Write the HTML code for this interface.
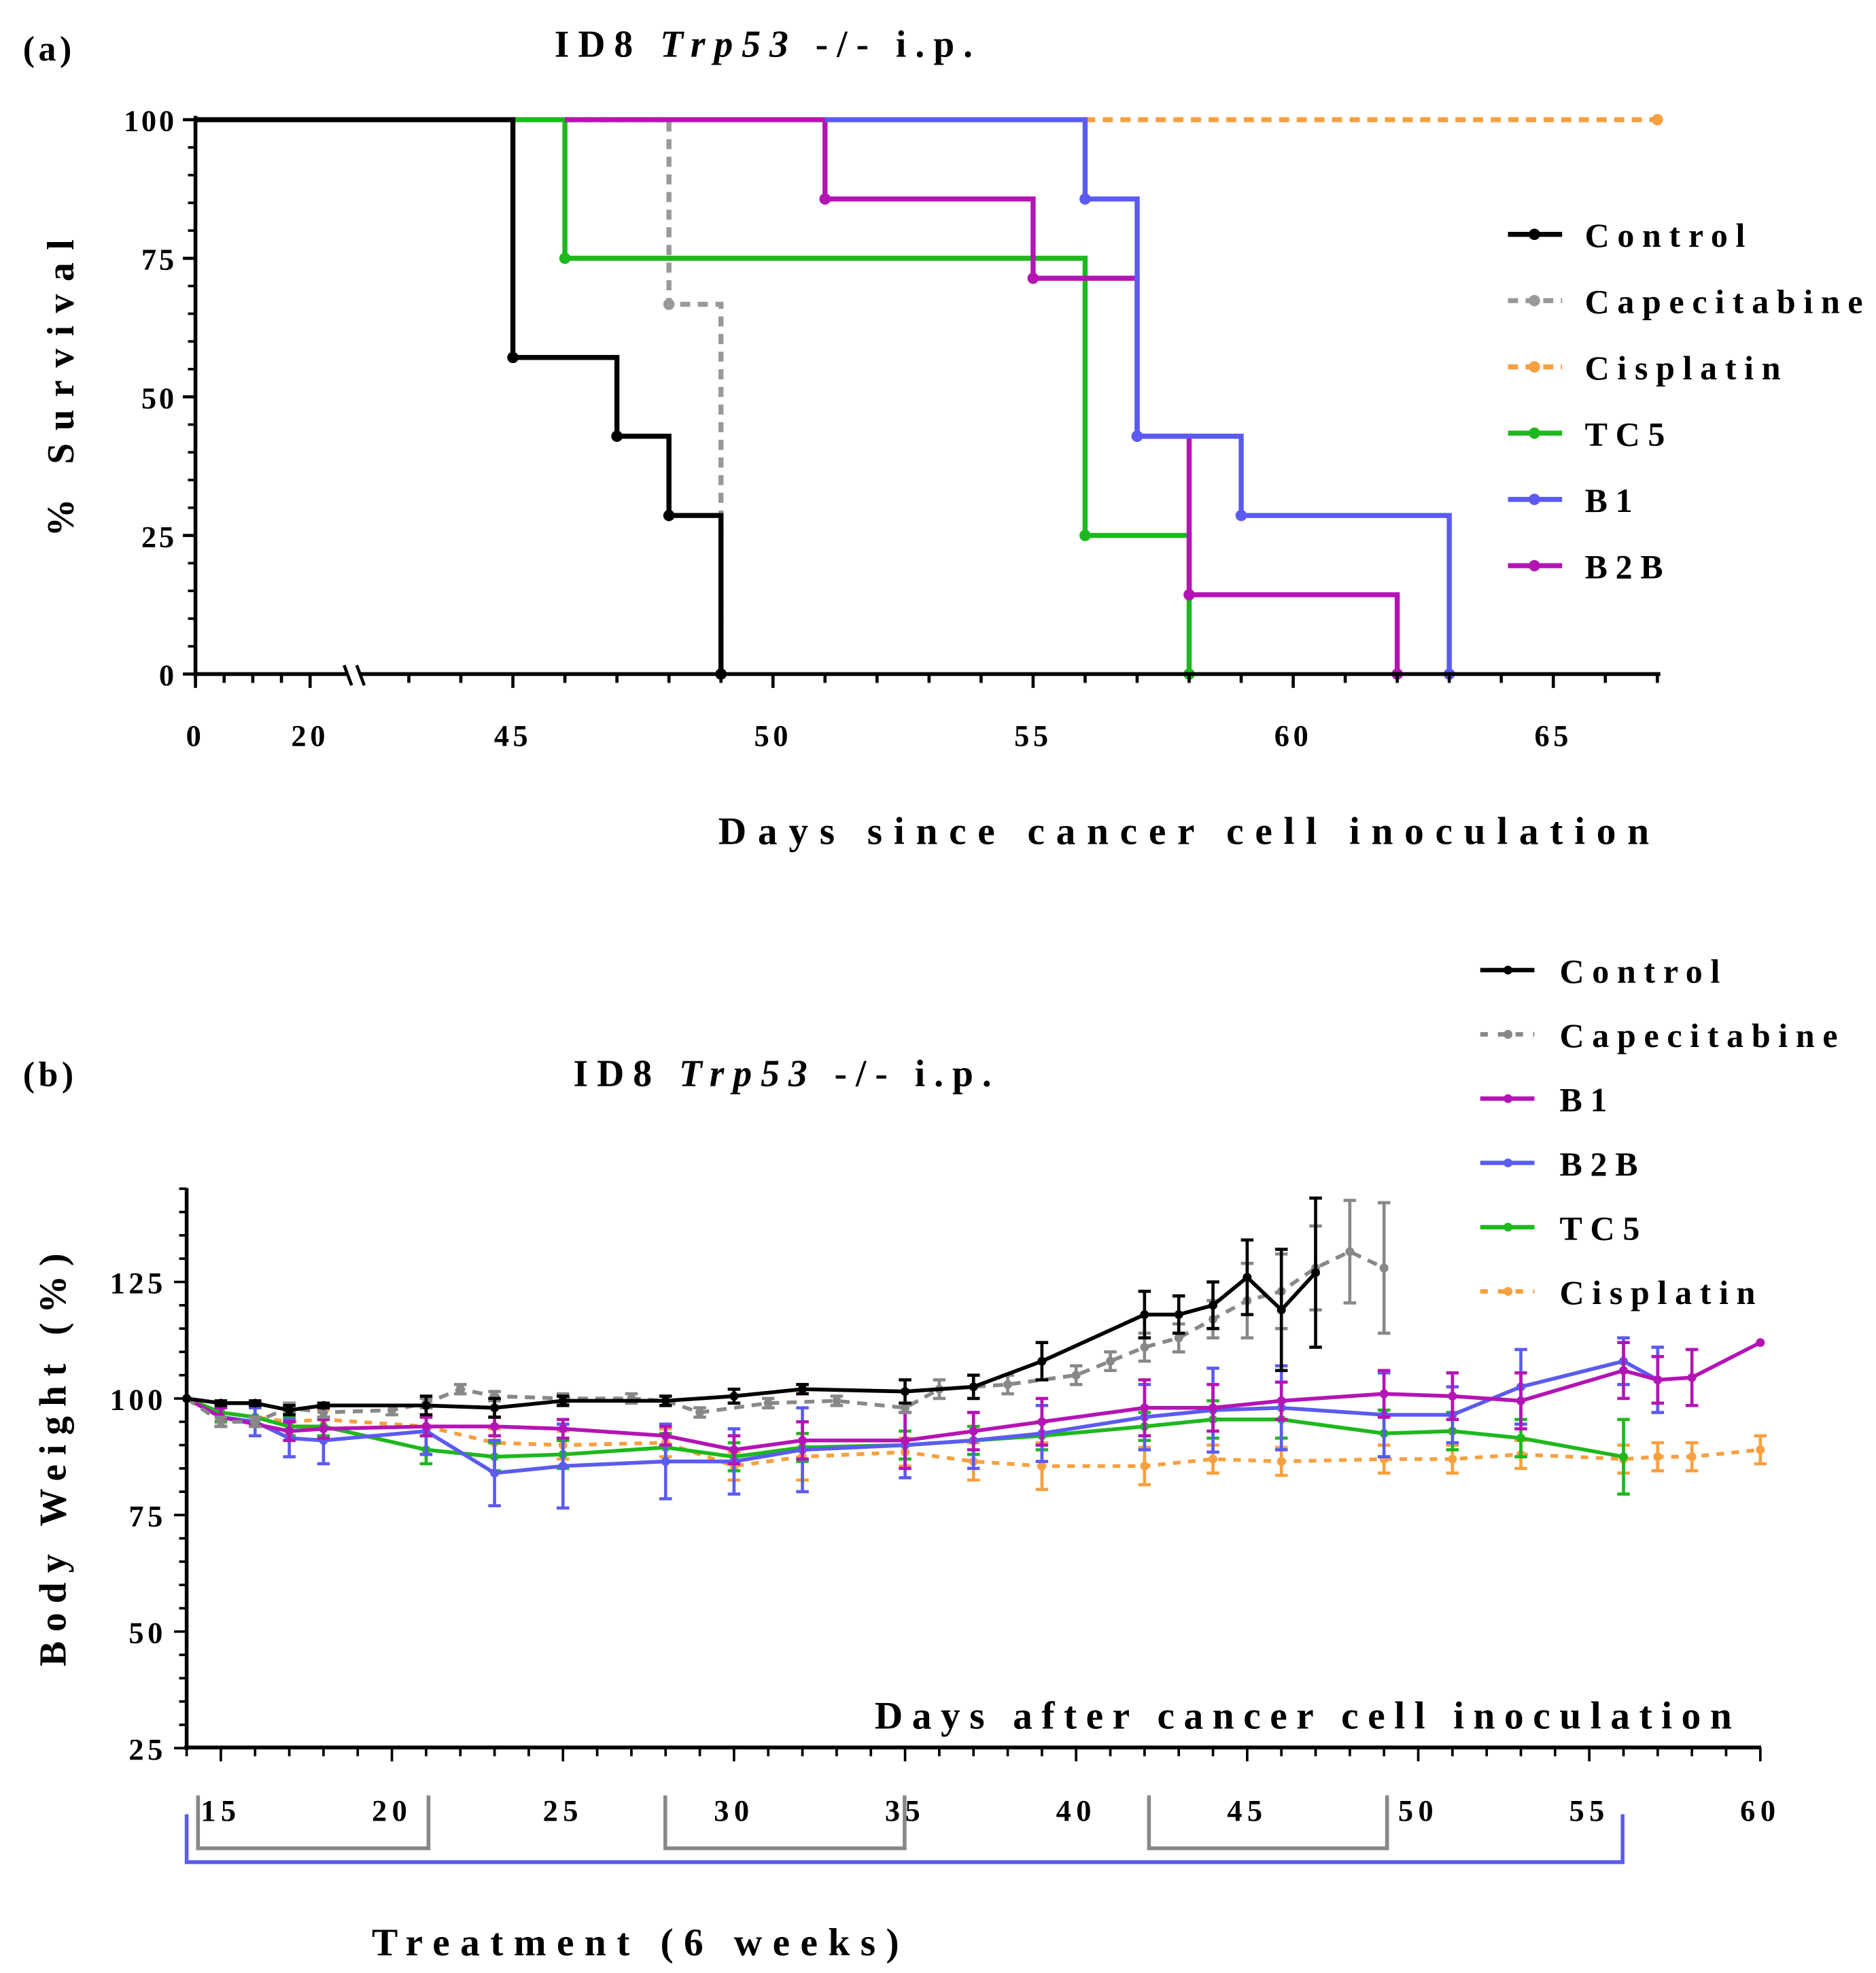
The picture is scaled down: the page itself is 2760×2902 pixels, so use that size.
<!DOCTYPE html>
<html><head><meta charset="utf-8"><style>
html,body{margin:0;padding:0;background:#fff}
svg{display:block}
text{font-family:"Liberation Serif",serif;font-weight:bold;fill:#000}
</style></head><body>
<svg id="fig" width="2760" height="2902" viewBox="0 0 1489 1566" xmlns="http://www.w3.org/2000/svg">
<g id="a"></g>
<g id="b"></g>
</svg>
<script>
const NS='http://www.w3.org/2000/svg';
function mk(p,t,a,txt){const e=document.createElementNS(NS,t);for(const k in a)e.setAttribute(k,a[k]);if(txt!==undefined)e.textContent=txt;p.appendChild(e);return e;}

// ===== Panel (a) data =====
const survNames=['Control','Capecitabine','Cisplatin','TC5','B1','B2B'];
const survColors=['#000','#999','#f7a040','#1db81d','#5b5bf0','#b414b4'];
const survDash=[null,'8,6','8,6',null,null,null];
const survDays=[[45,47,48,49],[48,49],[],[46,56,58],[56,57,59,63],[51,55,57,58,62]];
const survVals=[[57.1,42.9,28.6,0],[66.7,0],[],[75,25,0],[85.7,42.9,28.6,0],[85.7,71.4,42.9,14.3,0]];
const survStart=[0,46,56,45,51,46];
const survEnd=[49,49,67,58,63,62];
const survXTicks=[0,20,45,50,55,60,65];
const survYTicks=[0,25,50,75,100];

const A=document.getElementById('a');
function sx(d){ if(d<=22) return 155+d*4.55; return 407+(d-45)*41.3; }
function sy(v){ return 535-v*4.4; }
const order=[2,1,3,5,4,0];
order.forEach(i=>{
  const g=mk(A,'g',{});
  
  
  let pts=[],cur=100,x0=survStart[i];
  pts.push([sx(x0),sy(100)]);
  survDays[i].forEach((d,k)=>{pts.push([sx(d),sy(cur)]);cur=survVals[i][k];pts.push([sx(d),sy(cur)]);});
  if(survDays[i].length===0) pts.push([sx(survEnd[i]),sy(100)]);
  const a={points:pts.map(p=>p.join(',')).join(' '),fill:'none',stroke:survColors[i],'stroke-width':4};
  if(survDash[i]) a['stroke-dasharray']=survDash[i];
  mk(g,'polyline',a);
  survDays[i].forEach((d,k)=>mk(g,'circle',{cx:sx(d),cy:sy(survVals[i][k]),r:4.5,fill:survColors[i]}));
  if(survDays[i].length===0) mk(g,'circle',{cx:sx(survEnd[i]),cy:sy(100),r:4.5,fill:survColors[i]});
});
const ax=mk(A,'g',{});

mk(ax,'line',{x1:155,y1:92,x2:155,y2:537,stroke:'#000','stroke-width':3});
mk(ax,'line',{x1:155,y1:535,x2:276,y2:535,stroke:'#000','stroke-width':3});
mk(ax,'line',{x1:286,y1:535,x2:1318,y2:535,stroke:'#000','stroke-width':3});
mk(ax,'line',{x1:273,y1:528,x2:279,y2:544,stroke:'#000','stroke-width':2.5});
mk(ax,'line',{x1:283,y1:528,x2:289,y2:544,stroke:'#000','stroke-width':2.5});
for(let d=0;d<=20;d+=5) mk(ax,'line',{x1:sx(d),y1:535,x2:sx(d),y2:d%20===0?546:542,stroke:'#000','stroke-width':2.5});
for(let d=43;d<=67;d++) mk(ax,'line',{x1:sx(d),y1:535,x2:sx(d),y2:d%5===0?546:542,stroke:'#000','stroke-width':2.5});
survXTicks.forEach(t=>{const e=mk(ax,'text',{x:sx(t),y:592,'font-size':24,'text-anchor':'middle','letter-spacing':3},t);
  });
survYTicks.forEach(t=>{mk(ax,'line',{x1:145,y1:sy(t),x2:155,y2:sy(t),stroke:'#000','stroke-width':2.5});
  const e=mk(ax,'text',{x:140,y:sy(t)+9,'font-size':24,'text-anchor':'end','letter-spacing':2},t);
  });
for(let v=5;v<100;v+=5) if(v%25) mk(ax,'line',{x1:149,y1:sy(v),x2:155,y2:sy(v),stroke:'#000','stroke-width':2});
let t=mk(A,'text',{x:1318,y:670,'font-size':31,'text-anchor':'end','letter-spacing':9},'Days since cancer cell inoculation');

t=mk(A,'text',{x:0,y:0,'font-size':30,'text-anchor':'middle','letter-spacing':10,transform:'translate(58,303) rotate(-90)'},'% Survival');

t=mk(A,'text',{x:18,y:48,'font-size':28,'letter-spacing':3},'(a)');

t=mk(A,'text',{x:440,y:45,'font-size':30,'letter-spacing':7});
t.innerHTML='ID8 <tspan font-style="italic">Trp53</tspan> -/- i.p.';

survNames.forEach((n,i)=>{const y=186+i*52.6;const g=mk(A,'g',{});
  
  const a={x1:1197,y1:y,x2:1240,y2:y,stroke:survColors[i],'stroke-width':4};if(survDash[i])a['stroke-dasharray']='8,6';
  mk(g,'line',a);mk(g,'circle',{cx:1218,cy:y,r:4.5,fill:survColors[i]});
  mk(g,'text',{x:1258,y:y+10,'font-size':27,'letter-spacing':6.3},n);});

// ===== Panel (b) data =====
const bwNames=['Cisplatin','TC5','B2B','B1','Capecitabine','Control'];
const bwColors=['#f7a040','#1db81d','#5b5bf0','#b414b4','#888','#000'];
const bwDash=['6,6',null,null,null,'8,6',null];
const bwDays=[
 [14,15,17,18,21,23,25,28,30,32,35,37,39,42,44,46,49,51,53,56,57,58,60],
 [14,15,16,17,18,21,23,25,28,30,32,35,37,39,42,44,46,49,51,53,56],
 [14,15,16,17,18,21,23,25,28,30,32,35,37,39,42,44,46,49,51,53,56,57],
 [14,15,17,18,21,23,25,28,30,32,35,37,39,42,44,46,49,51,53,56,57,58,60],
 [14,15,16,17,18,20,21,22,23,25,27,28,29,31,33,35,36,38,40,41,42,43,44,45,46,47,48,49],
 [14,15,16,17,18,21,23,25,28,30,32,35,37,39,42,43,44,45,46,47]];
const bwVals=[
 [100,97,95,95.5,94,90.5,90,90.5,85.5,87.5,88.5,86.5,85.5,85.5,87,86.5,87,87,88,87,87.5,87.5,89],
 [100,97,96,94,94,89,87.5,88,89.5,87.5,89.5,90,91,92,94,95.5,95.5,92.5,93,91.5,87.5],
 [100,96,95,91.5,91,93,84,85.5,86.5,86.5,89,90,91,92.5,96,97.5,98,96.5,96.5,102.5,108,104],
 [100,96,93,93.5,94,94,93.5,92,89,91,91,93,95,98,98,99.5,101,100.5,99.5,106,104,104.5,112],
 [100,95,95,98,97,97.5,99,102,100.5,100,100,99.5,97,99,99.5,98,102,103,105,108,111,113,117,121,123,128,131.5,128],
 [100,99,99,97.5,98.5,98.5,98,99.5,99.5,100.5,102,101.5,102.5,108,118,118,120,126,119,127]];
const bwErr=[
 [0,2,2,2,2,3,3,3,3,5,3,4,5,4,3,3,3,3,3,3,3,3,3],
 [0,2,2,2,2,3,3,3,3,3,3,3,3,3,3,4,4,5,4,4,8],
 [0,2,3,4,5,5,7,9,8,7,9,7,6,6,7,9,9,9,6,8,5,7],
 [0,2,2,2,2,2,2,2,3,4,6,4,5,6,5,4,5,5,6,6,5,6,0],
 [0,1,1,1,1,1,1,1,1,1,1,1,1,1,1,1,2,2,2,2,3,3,4,8,8,9,11,14],
 [0,0.5,0.5,1,0.5,2,2,1,1,1.5,1,2.5,2.5,4,5,4,5,8,13,16]];
const bwXTicks=[15,20,25,30,35,40,45,50,55,60];
const bwYTicks=[25,50,75,100,125];

const B=document.getElementById('b');
function bx(d){return 148+(d-14)*27.16;}
function by(v){return 1110-(v-100)*3.7;}
bwNames.forEach((n,i)=>{const g=mk(B,'g',{});
  
  bwDays[i].forEach((d,k)=>{const e=bwErr[i][k];if(!e)return;const x=bx(d),v=bwVals[i][k];
    mk(g,'line',{x1:x,y1:by(v+e),x2:x,y2:by(v-e),stroke:bwColors[i],'stroke-width':2.5});
    mk(g,'line',{x1:x-5,y1:by(v+e),x2:x+5,y2:by(v+e),stroke:bwColors[i],'stroke-width':2.5});
    mk(g,'line',{x1:x-5,y1:by(v-e),x2:x+5,y2:by(v-e),stroke:bwColors[i],'stroke-width':2.5});});
  const a={points:bwDays[i].map((d,k)=>bx(d)+','+by(bwVals[i][k])).join(' '),fill:'none',stroke:bwColors[i],'stroke-width':3};
  if(bwDash[i])a['stroke-dasharray']=bwDash[i];mk(g,'polyline',a);
  bwDays[i].forEach((d,k)=>mk(g,'circle',{cx:bx(d),cy:by(bwVals[i][k]),r:3.5,fill:bwColors[i]}));});
const bax=mk(B,'g',{});

mk(bax,'line',{x1:148,y1:943,x2:148,y2:1389,stroke:'#000','stroke-width':3});
mk(bax,'line',{x1:146,y1:1387,x2:1398,y2:1387,stroke:'#000','stroke-width':3});
for(let d=14;d<=60;d++) mk(bax,'line',{x1:bx(d),y1:1387,x2:bx(d),y2:d%5===0?1398:1394,stroke:'#000','stroke-width':2});
for(let v=25;v<=145;v+=5) mk(bax,'line',{x1:v%25===0?138:142,y1:by(v),x2:148,y2:by(v),stroke:'#000','stroke-width':2});
bwXTicks.forEach(tk=>{const e=mk(bax,'text',{x:bx(tk),y:1445,'font-size':24,'text-anchor':'middle','letter-spacing':4},tk);
  });
bwYTicks.forEach(tk=>{const e=mk(bax,'text',{x:132,y:by(tk)+9,'font-size':24,'text-anchor':'end','letter-spacing':3},tk);
  });
t=mk(B,'text',{x:1382,y:1372,'font-size':31,'text-anchor':'end','letter-spacing':7.3},'Days after cancer cell inoculation');

t=mk(B,'text',{x:0,y:0,'font-size':30,'text-anchor':'middle','letter-spacing':7.5,transform:'translate(52,1155) rotate(-90)'},'Body Weight (%)');

t=mk(B,'text',{x:18,y:862,'font-size':28,'letter-spacing':3},'(b)');

t=mk(B,'text',{x:455,y:862,'font-size':30,'letter-spacing':7});
t.innerHTML='ID8 <tspan font-style="italic">Trp53</tspan> -/- i.p.';

const legB=['Control','Capecitabine','B1','B2B','TC5','Cisplatin'];
const legBc=['#000','#888','#b414b4','#5b5bf0','#1db81d','#f7a040'];
const legBd=[null,'6,8',null,null,null,'6,8'];
legB.forEach((n,i)=>{const y=770+i*51;const g=mk(B,'g',{});
  
  const a={x1:1175,y1:y,x2:1218,y2:y,stroke:legBc[i],'stroke-width':3.5};if(legBd[i])a['stroke-dasharray']=legBd[i];
  mk(g,'line',a);mk(g,'circle',{cx:1197,cy:y,r:3.5,fill:legBc[i]});
  mk(g,'text',{x:1238,y:y+10,'font-size':27,'letter-spacing':6.3},n);});
const tg=mk(B,'g',{});

mk(tg,'polyline',{points:'148,1440 148,1478 1288,1478 1288,1440',fill:'none',stroke:'#5b5bf0','stroke-width':3});
[[157,340],[528,718],[912,1101]].forEach(b=>mk(tg,'polyline',{points:`${b[0]},1425 ${b[0]},1467 ${b[1]},1467 ${b[1]},1425`,fill:'none',stroke:'#888','stroke-width':3}));
t=mk(B,'text',{x:295,y:1552,'font-size':31,'letter-spacing':8.3},'Treatment (6 weeks)');

</script>
</body></html>
